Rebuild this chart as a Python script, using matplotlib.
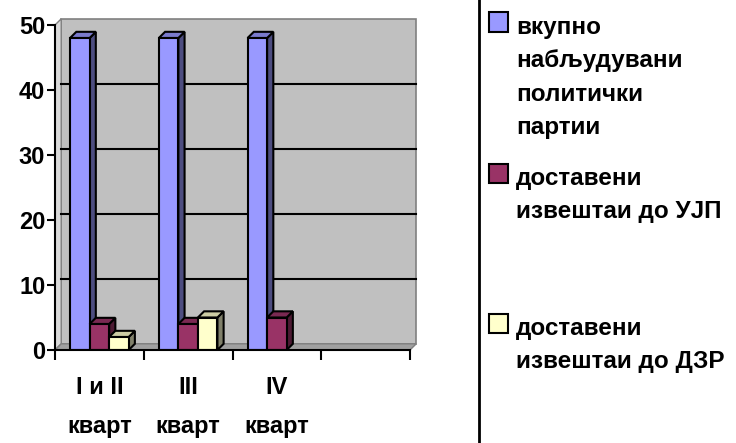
import numpy as np
import matplotlib as mpl
mpl.use('Agg')
import matplotlib.pyplot as plt
from matplotlib.patches import Polygon, Rectangle

categories = ['I и II\nкварт', 'III\nкварт', 'IV\nкварт', '']
series_names = ['вкупно\nнабљудувани\nполитички\nпартии',
                'доставени\nизвештаи до УЈП',
                'доставени\nизвештаи до ДЗР']
total_parties = [48, 48, 48, np.nan]
reports_ujp = [4, 4, 5, np.nan]
reports_dzr = [2, 5, np.nan, np.nan]
series = [total_parties, reports_ujp, reports_dzr]

face = ['#9999FF', '#993366', '#FFFFCC']
side = ['#4D4D80', '#4D1A33', '#80806A']
top = ['#7A7ACC', '#7A2952', '#CCCCA3']

plt.rcParams['font.family'] = ['Liberation Sans', 'DejaVu Sans']
plt.rcParams['font.weight'] = 'bold'

W, H = 736, 443
fig = plt.figure(figsize=(W / 100, H / 100), dpi=100)
ax = fig.add_axes([55 / W, (H - 350) / H, (410 - 55) / W, (350 - 25) / H])
ax.set_xlim(-0.5, 3.5)
ax.set_ylim(0, 50)
ax.set_facecolor('none')

dx, dy = 0.07, 0.95  # 3d depth in data units
wall = '#C0C0C0'
# back wall, side wall, floor
ax.add_patch(Polygon([(-0.5 + dx, dy), (3.5 + dx, dy), (3.5 + dx, 50 + dy), (-0.5 + dx, 50 + dy)],
                     closed=True, fc=wall, ec='#808080', lw=1.2, clip_on=False, zorder=0))
ax.add_patch(Polygon([(-0.5, 0), (-0.5 + dx, dy), (-0.5 + dx, 50 + dy), (-0.5, 50)],
                     closed=True, fc='#DADADA', ec='#808080', lw=1, clip_on=False, zorder=0))
ax.add_patch(Polygon([(-0.5, 0), (3.5, 0), (3.5 + dx, dy), (-0.5 + dx, dy)],
                     closed=True, fc='#A0A0A0', ec='#808080', lw=1, clip_on=False, zorder=0))
for g in [10, 20, 30, 40]:
    ax.plot([-0.5 + dx, 3.5 + dx], [g + dy, g + dy], color='black', lw=1.5, zorder=1, clip_on=False)

x = np.arange(len(categories))
w = 0.22
for i, vals in enumerate(series):
    offs = (i - 1) * w
    for xc, v in zip(x, vals):
        if np.isnan(v):
            continue
        x0 = xc + offs - w / 2
        x1 = x0 + w
        ax.add_patch(Polygon([(x1, 0), (x1 + dx, dy), (x1 + dx, v + dy), (x1, v)],
                             closed=True, fc=side[i], ec='black', lw=1.5, zorder=3 + i, clip_on=False))
        ax.add_patch(Polygon([(x0, v), (x0 + dx, v + dy), (x1 + dx, v + dy), (x1, v)],
                             closed=True, fc=top[i], ec='black', lw=1.5, zorder=3 + i, clip_on=False))
    ax.bar(x + offs, vals, width=w, color=face[i], edgecolor='black', lw=1.5, zorder=3 + i)

for s in ['top', 'right']:
    ax.spines[s].set_visible(False)
for s in ['left', 'bottom']:
    ax.spines[s].set_linewidth(1.5)
    ax.spines[s].set_zorder(10)

ax.set_yticks([0, 10, 20, 30, 40, 50])
ax.tick_params(axis='y', direction='out', length=6, width=1.5, labelsize=17, pad=1)
for t in ax.get_yticklabels():
    t.set_fontweight('bold')
ax.set_xticks(np.arange(-0.5, 4, 1))
ax.set_xticks(x, minor=True)
ax.set_xticklabels([])
ax.set_xticklabels(categories, minor=True, fontsize=17, linespacing=1.86, fontweight='bold')
ax.tick_params(axis='x', which='major', direction='out', length=7, width=1.5)
ax.tick_params(axis='x', which='minor', length=0, pad=19)

# legend box, partly outside the picture
fig.patches.append(Rectangle((479 / W, -0.05), 0.5, 1.1, transform=fig.transFigure,
                             fill=False, ec='black', lw=2))
entry_y = [22, 173, 323]
for i, name in enumerate(series_names):
    yy = 1 - entry_y[i] / H
    fig.patches.append(Rectangle((489 / W, yy - 9.5 / H), 19 / W, 19 / H, transform=fig.transFigure,
                                 fc=face[i], ec='black', lw=1.5))
    fig.text(516 / W, yy + 6 / H, name, fontsize=17.5, fontweight='bold',
             va='top', ha='left', linespacing=1.58)

fig.savefig('out.png', dpi=100)
